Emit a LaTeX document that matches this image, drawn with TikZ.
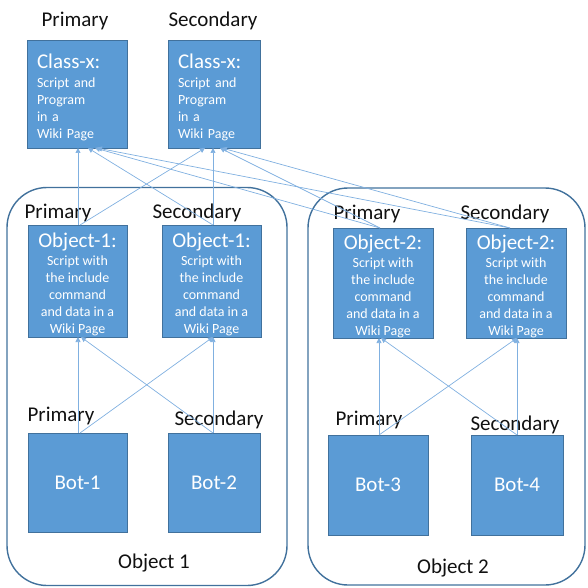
\documentclass[tikz,border=0pt]{standalone}
\usepackage{fontspec}
\setmainfont{Carlito}
\usetikzlibrary{arrows.meta}
\definecolor{boxfill}{HTML}{5B9BD5}
\definecolor{boxline}{HTML}{41719C}
\definecolor{linkblue}{HTML}{80B0E0}
\definecolor{frameblue}{HTML}{41719C}
\definecolor{labelink}{HTML}{111111}
\newcommand\boxtitle{\fontsize{21}{24}\selectfont}
\newcommand\boxbody{\fontsize{14}{17}\selectfont}
% invisible top strut that lowers the text block inside a box
\newcommand\topgap[1]{\rule{0pt}{#1}}
\begin{document}
\begin{tikzpicture}[x=1pt,y=-1pt,
  blk/.style={draw=boxline, line width=0.6pt, fill=boxfill, text=white,
    inner sep=0pt, outer sep=0pt},
  classbox/.style={blk, align=left, font=\boxbody},
  objbox/.style={blk, align=center, font=\boxbody, minimum width=#1},
  botbox/.style={blk, font=\boxtitle},
  tag/.style={inner sep=0pt, text=labelink, font=\boxtitle},
  group/.style={draw=frameblue, line width=1.4pt, rounded corners=40pt,
    inner sep=0pt, outer sep=0pt},
  link/.style={draw=linkblue, line width=0.7pt,
    -{Triangle[width=5pt,length=5pt]}},
]
\useasboundingbox (0,0) rectangle (587,588);

% group frames
\node[group, minimum width=280, minimum height=398] (grp1) at (147,386.5) {};
\node[group, minimum width=277, minimum height=397] (grp2) at (446.5,386.5) {};

% class pages
\node[classbox, minimum width=100, minimum height=108, text width=80] (cp) at (77,94)
  {{\boxtitle\topgap{22pt}Class-x:}\\[2pt]Script and\\Program\\in a\\Wiki Page};
\node[classbox, minimum width=92, minimum height=108, text width=72] (cs) at (214,94)
  {{\boxtitle\topgap{22pt}Class-x:}\\[2pt]Script and\\Program\\in a\\Wiki Page};

% object pages
\node[objbox=99, minimum height=112] (o1p) at (77.5,281)
  {{\boxtitle\topgap{21pt}Object-1:}\\[1pt]Script with\\the include\\command\\and data in a\\Wiki Page};
\node[objbox=99, minimum height=112] (o1s) at (211.5,281)
  {{\boxtitle\topgap{21pt}Object-1:}\\[1pt]Script with\\the include\\command\\and data in a\\Wiki Page};
\node[objbox=100, minimum height=110] (o2p) at (383,283)
  {{\boxtitle\topgap{21pt}Object-2:}\\[1pt]Script with\\the include\\command\\and data in a\\Wiki Page};
\node[objbox=100, minimum height=110] (o2s) at (516,283)
  {{\boxtitle\topgap{21pt}Object-2:}\\[1pt]Script with\\the include\\command\\and data in a\\Wiki Page};

% bots
\node[botbox, minimum width=99, minimum height=99] (b1) at (77.5,482.5) {Bot-1};
\node[botbox, minimum width=92, minimum height=99] (b2) at (214,482.5) {Bot-2};
\node[botbox, minimum width=100, minimum height=100] (b3) at (378,485) {Bot-3};
\node[botbox, minimum width=92, minimum height=100] (b4) at (517,485) {Bot-4};

% role labels
\node[tag] (tcp) at (75,21) {Primary};
\node[tag] (tcs) at (213,21) {Secondary};
\node[tag] (t1p) at (58,213) {Primary};
\node[tag] (t1s) at (197,213) {Secondary};
\node[tag] (t2p) at (367,214) {Primary};
\node[tag] (t2s) at (505,214) {Secondary};
\node[tag] (tb1) at (61,416) {Primary};
\node[tag] (tb2) at (219,420) {Secondary};
\node[tag] (tb3) at (369,420) {Primary};
\node[tag] (tb4) at (515,425) {Secondary};
\node[tag] (g1) at (154,563) {Object 1};
\node[tag] (g2) at (453,568) {Object 2};

% bots to object pages
\draw[link] ([xshift=0.5pt]b1.north) -- ([xshift=0.5pt]o1p.south);
\draw[link] ([xshift=2.5pt]b1.north) -- ([xshift=1.5pt]o1s.south);
\draw[link] ([xshift=-1pt]b2.north) -- ([xshift=1.5pt]o1s.south);
\draw[link] ([xshift=-1pt]b2.north) -- ([xshift=3.5pt]o1p.south);
\draw[link] ([xshift=1pt]b3.north) -- ([xshift=-4pt]o2p.south);
\draw[link] ([xshift=1pt]b3.north) -- ([xshift=1pt]o2s.south);
\draw[link] (b4.north) -- ([xshift=1pt]o2s.south);
\draw[link] (b4.north) -- ([xshift=-2pt]o2p.south);

% object pages to class pages
\draw[link] ([xshift=0.5pt]o1p.north) -- ([xshift=1pt]cp.south);
\draw[link] ([xshift=1.5pt]o1s.north) -- ([xshift=11pt]cp.south);
\draw[link] ([xshift=2.5pt]o1p.north) -- ([xshift=-9pt]cs.south);
\draw[link] ([xshift=1.5pt]o1s.north) -- ([xshift=-1pt]cs.south);
\draw[link] ([xshift=-3pt]o2p.north) -- ([xshift=18pt]cp.south);
\draw[link] ([xshift=-6pt]o2s.north) -- ([xshift=20pt]cp.south);
\draw[link] ([xshift=-3pt]o2p.north) -- ([xshift=6pt]cs.south);
\draw[link] ([xshift=-6pt]o2s.north) -- ([xshift=8pt]cs.south);
\end{tikzpicture}
\end{document}
